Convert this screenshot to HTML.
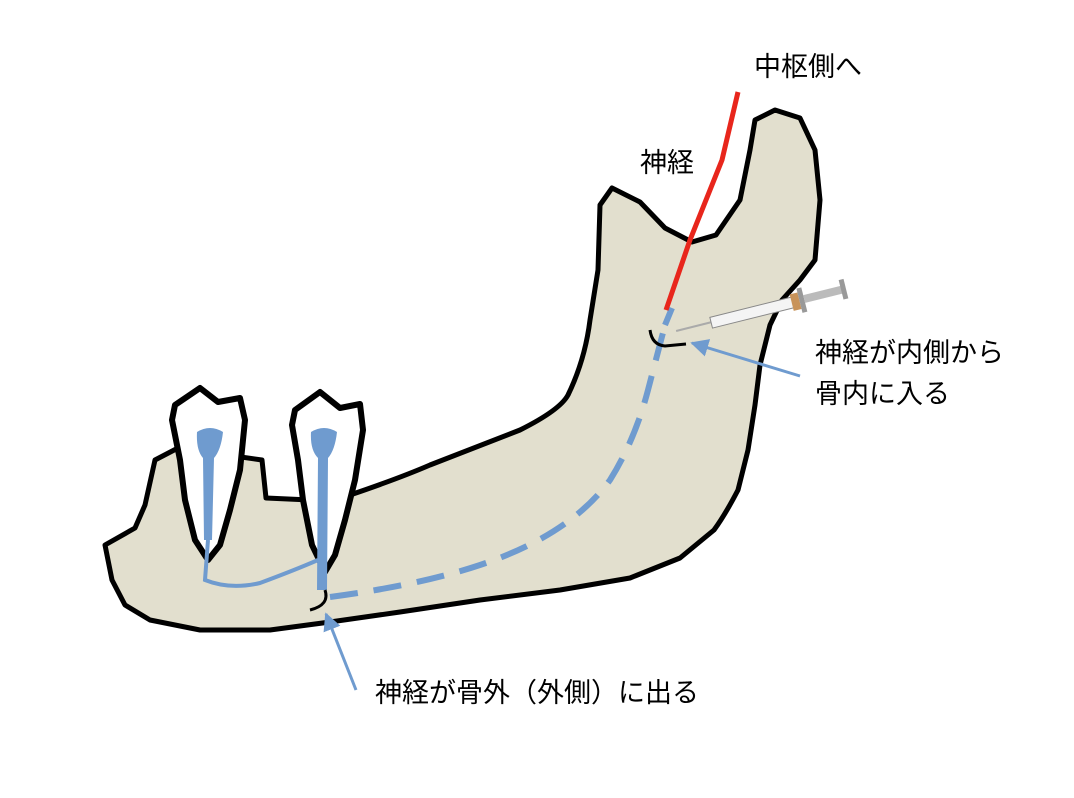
<!DOCTYPE html>
<html><head><meta charset="utf-8"><style>
html,body{margin:0;padding:0;background:#fff;}
svg{display:block;}
text{font-family:"Liberation Sans","Noto Sans CJK JP",sans-serif;font-size:27px;fill:#000;}
</style></head><body>
<svg width="1074" height="798" viewBox="0 0 1074 798" xmlns="http://www.w3.org/2000/svg">
<defs>
<marker id="ah" viewBox="0 0 10 10" refX="9" refY="5" markerWidth="6" markerHeight="6" orient="auto"><path d="M0,0 L10,5 L0,10 z" fill="#6f9bcf"/></marker>
</defs>
<path d="M105,545 L135,528 L145,505 L155,460 L178,448 L262,460 L266,498 L310,500 L350,495 Q400,478 430,465 L520,430 Q560,410 568,395 Q585,360 590,320 L598,270 L600,205 L612,188 L640,202 L665,228 L692,242 L716,235 L740,200 L750,150 L755,120 L775,110 L800,118 L815,150 L820,200 L815,260 L800,280 L782,300 L770,325 L760,365 L755,405 L748,450 L738,490 Q725,515 714,530 L680,558 L630,578 L560,590 L480,600 L400,612 L330,622 L270,630 L200,630 L150,620 L125,605 L112,580 Z" fill="#e2dfce" stroke="#000" stroke-width="5" stroke-linejoin="round"/>
<path d="M175,405 L200,388 L218,402 L240,398 L245,420 L240,470 L230,510 L220,545 L208,560 L195,540 L185,500 L180,460 L172,420 Z" fill="#fff" stroke="#000" stroke-width="6" stroke-linejoin="round"/>
<path d="M295,410 L320,392 L340,408 L360,404 L363,430 L355,480 L345,520 L335,555 L325,572 L312,545 L303,500 L298,460 L292,425 Z" fill="#fff" stroke="#000" stroke-width="6" stroke-linejoin="round"/>
<path d="M197,432 Q210,424 223,432 Q221,450 214,458 L212,540 L204,540 L203,458 Q196,450 197,432 Z" fill="#6f9bcf"/>
<path d="M311,432 Q324,424 337,432 Q335,450 328,458 L327,590 L317,590 L318,458 Q310,450 311,432 Z" fill="#6f9bcf"/>
<path d="M208,540 L205,580 Q230,590 260,583 Q295,570 318,560" fill="none" stroke="#6f9bcf" stroke-width="4"/>
<path d="M330,597 Q420,585 480,565 Q570,535 610,480 Q635,440 648,390 L665,325" fill="none" stroke="#6f9bcf" stroke-width="6" stroke-dasharray="28,16"/>
<path d="M665,325 L672,308" stroke="#6f9bcf" stroke-width="6"/>
<path d="M666,310 L690,240 Q710,190 722,160 L738,92" fill="none" stroke="#e8261c" stroke-width="5"/>
<path d="M650,330 Q652,345 665,346 L686,344" fill="none" stroke="#000" stroke-width="3"/>
<path d="M325,590 Q330,605 310,610" fill="none" stroke="#000" stroke-width="3"/>
<g transform="rotate(-14 680 330)">
<line x1="676" y1="330" x2="712" y2="330" stroke="#aaa" stroke-width="2"/>
<rect x="712" y="325" width="88" height="11" fill="#f4f4f4" stroke="#888" stroke-width="1"/>
<rect x="795" y="322" width="8" height="17" fill="#c8935a"/>
<rect x="803" y="318" width="5" height="25" fill="#999"/>
<rect x="808" y="326" width="40" height="8" fill="#bbb"/>
<rect x="846" y="320" width="5" height="20" fill="#999"/>
</g>
<line x1="800" y1="376" x2="692" y2="343" stroke="#6f9bcf" stroke-width="3" marker-end="url(#ah)"/>
<line x1="356" y1="690" x2="326" y2="614" stroke="#6f9bcf" stroke-width="3" marker-end="url(#ah)"/>
<text x="754" y="76">中枢側へ</text>
<text x="640" y="172">神経</text>
<text x="815" y="362">神経が内側から</text>
<text x="815" y="403">骨内に入る</text>
<text x="375" y="702">神経が骨外（外側）に出る</text>
</svg>
</body></html>
